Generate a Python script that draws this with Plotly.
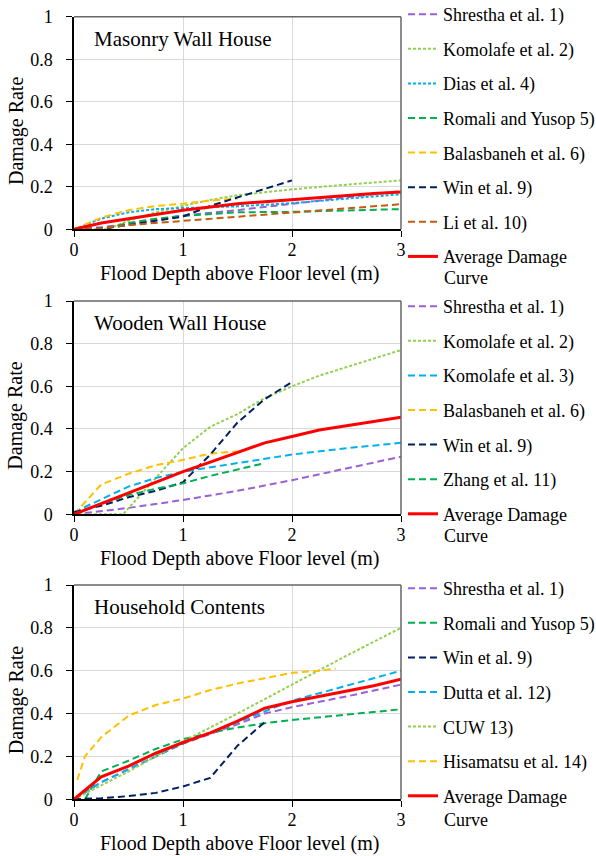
import plotly.graph_objects as go

# ---------------- DATA ----------------
# Panel 1: Masonry Wall House
m_shrestha_x = [0, 0.25, 0.5, 0.75, 1, 1.5, 2, 2.5, 3]
m_shrestha_y = [0, 0.01, 0.025, 0.045, 0.065, 0.09, 0.12, 0.15, 0.18]
m_komolafe2_x = [0, 0.3, 0.5, 0.75, 1, 1.25, 1.5, 2, 2.5, 3]
m_komolafe2_y = [0, 0, 0.04, 0.08, 0.11, 0.138, 0.16, 0.188, 0.21, 0.23]
m_dias_x = [0, 0.25, 0.5, 0.75, 1, 1.5, 2, 2.5, 3]
m_dias_y = [0, 0.05, 0.08, 0.095, 0.1, 0.108, 0.123, 0.145, 0.165]
m_romali_x = [0, 0.3, 0.5, 0.75, 1, 1.5, 2, 2.5, 3]
m_romali_y = [0, 0.005, 0.03, 0.05, 0.063, 0.08, 0.082, 0.09, 0.095]
m_balas_x = [0, 0.25, 0.5, 0.75, 1, 1.25, 1.5]
m_balas_y = [0, 0.055, 0.09, 0.11, 0.12, 0.135, 0.145]
m_win_x = [0, 0.25, 0.5, 0.75, 1, 1.25, 1.5, 1.75, 2]
m_win_y = [0, 0.003, 0.02, 0.04, 0.06, 0.11, 0.15, 0.19, 0.23]
m_li_x = [0, 0.25, 0.5, 0.75, 1, 1.5, 2, 2.5, 3]
m_li_y = [0, 0.005, 0.02, 0.03, 0.04, 0.06, 0.08, 0.1, 0.118]
m_avg_x = [0, 0.25, 0.5, 0.75, 1, 1.25, 1.5, 1.75, 2, 2.25, 2.5, 2.75, 3]
m_avg_y = [0, 0.03, 0.05, 0.07, 0.09, 0.105, 0.12, 0.13, 0.14, 0.15, 0.16, 0.168, 0.175]

# Panel 2: Wooden Wall House
w_shrestha_x = [0, 0.5, 1, 1.5, 2, 2.5, 3]
w_shrestha_y = [0, 0.03, 0.067, 0.11, 0.16, 0.215, 0.27]
w_komolafe2_x = [0, 0.45, 0.75, 1, 1.25, 1.5, 1.75, 2, 2.25, 2.5, 2.75, 3]
w_komolafe2_y = [0, 0, 0.17, 0.31, 0.41, 0.47, 0.545, 0.6, 0.65, 0.69, 0.73, 0.77]
w_komolafe3_x = [0, 0.25, 0.5, 0.75, 1, 1.5, 2, 2.5, 3]
w_komolafe3_y = [0.01, 0.07, 0.13, 0.17, 0.2, 0.24, 0.28, 0.31, 0.335]
w_balas_x = [0, 0.25, 0.5, 0.75, 1, 1.25, 1.5]
w_balas_y = [0, 0.14, 0.19, 0.23, 0.255, 0.285, 0.295]
w_win_x = [0, 0.25, 0.5, 0.75, 1, 1.25, 1.5, 1.75, 2]
w_win_y = [0.01, 0.04, 0.08, 0.11, 0.15, 0.28, 0.43, 0.54, 0.62]
w_zhang_x = [0, 0.25, 0.5, 0.75, 1, 1.25, 1.5, 1.75]
w_zhang_y = [0, 0.05, 0.09, 0.12, 0.145, 0.18, 0.21, 0.24]
w_avg_x = [0, 0.25, 0.5, 0.75, 1, 1.25, 1.5, 1.75, 2, 2.25, 2.5, 2.75, 3]
w_avg_y = [0, 0.05, 0.1, 0.15, 0.2, 0.245, 0.29, 0.335, 0.365, 0.395, 0.415, 0.435, 0.455]

# Panel 3: Household Contents
h_shrestha_x = [0, 0.25, 0.5, 1, 1.5, 1.75, 2, 2.5, 3]
h_shrestha_y = [0, 0.08, 0.14, 0.26, 0.35, 0.40, 0.43, 0.48, 0.535]
h_romali_x = [0, 0.1, 0.25, 0.5, 0.75, 1, 1.25, 1.5, 1.75, 2, 2.5, 3]
h_romali_y = [0, 0, 0.13, 0.18, 0.235, 0.28, 0.31, 0.335, 0.355, 0.37, 0.395, 0.42]
h_win_x = [0, 0.25, 0.5, 0.75, 1, 1.25, 1.5, 1.75]
h_win_y = [0, 0.005, 0.015, 0.03, 0.06, 0.1, 0.25, 0.36]
h_dutta_x = [0, 0.25, 0.5, 1, 1.5, 1.75, 2, 2.5, 3]
h_dutta_y = [0, 0.08, 0.14, 0.26, 0.36, 0.41, 0.46, 0.53, 0.6]
h_cuw_x = [0, 0.25, 0.5, 1, 1.5, 2, 2.5, 3]
h_cuw_y = [0, 0.065, 0.13, 0.27, 0.4, 0.535, 0.67, 0.8]
h_hisa_x = [0.03, 0.1, 0.25, 0.5, 0.75, 1, 1.25, 1.5, 1.75, 2, 2.25, 2.4]
h_hisa_y = [0.09, 0.2, 0.29, 0.39, 0.44, 0.47, 0.51, 0.54, 0.565, 0.59, 0.6, 0.61]
h_avg_x = [0, 0.25, 0.5, 0.75, 1, 1.25, 1.5, 1.75, 2, 2.25, 2.5, 2.75, 3]
h_avg_y = [0, 0.105, 0.155, 0.215, 0.265, 0.31, 0.365, 0.425, 0.455, 0.48, 0.505, 0.53, 0.56]

panel_titles = ["Masonry Wall House", "Wooden Wall House", "Household Contents"]
x_title = "Flood Depth above Floor level (m)"
y_title = "Damage Rate"
avg_label_1 = "Average Damage"
avg_label_2 = "Curve"

# ---------------- STYLE ----------------
PURPLE = "#9B5FD6"
LGREEN = "#92D050"
LBLUE = "#00B0F0"
GREEN = "#00B050"
YELLOW = "#FFC000"
NAVY = "#002060"
BROWN = "#C55A11"
RED = "#FF0000"
DASH = "7px,4px"
DOT = "3px,2px"
FONT = "Liberation Serif, Times New Roman, serif"

W, H = 596, 856
def px_x(p):
    return p / W
def px_y(p):
    return 1 - p / H

x_dom = [px_x(74), px_x(401)]
bottoms = [229.3, 514.3, 799.3]
tops = [16.7, 301, 585]
y_doms = [[px_y(b), px_y(t)] for b, t in zip(bottoms, tops)]
legend_tops = [-4, 288, 570]
curve_ys = [278, 536, 820]

panels = [
    [("Shrestha et al. 1)", m_shrestha_x, m_shrestha_y, PURPLE, DASH),
     ("Komolafe et al. 2)", m_komolafe2_x, m_komolafe2_y, LGREEN, DOT),
     ("Dias et al. 4)", m_dias_x, m_dias_y, LBLUE, DOT),
     ("Romali and Yusop 5)", m_romali_x, m_romali_y, GREEN, DASH),
     ("Balasbaneh et al. 6)", m_balas_x, m_balas_y, YELLOW, DASH),
     ("Win et al. 9)", m_win_x, m_win_y, NAVY, DASH),
     ("Li et al. 10)", m_li_x, m_li_y, BROWN, DASH),
     (avg_label_1, m_avg_x, m_avg_y, RED, "solid")],
    [("Shrestha et al. 1)", w_shrestha_x, w_shrestha_y, PURPLE, DASH),
     ("Komolafe et al. 2)", w_komolafe2_x, w_komolafe2_y, LGREEN, DOT),
     ("Komolafe et al. 3)", w_komolafe3_x, w_komolafe3_y, LBLUE, DASH),
     ("Balasbaneh et al. 6)", w_balas_x, w_balas_y, YELLOW, DASH),
     ("Win et al. 9)", w_win_x, w_win_y, NAVY, DASH),
     ("Zhang et al. 11)", w_zhang_x, w_zhang_y, GREEN, DASH),
     (avg_label_1, w_avg_x, w_avg_y, RED, "solid")],
    [("Shrestha et al. 1)", h_shrestha_x, h_shrestha_y, PURPLE, DASH),
     ("Romali and Yusop 5)", h_romali_x, h_romali_y, GREEN, DASH),
     ("Win et al. 9)", h_win_x, h_win_y, NAVY, DASH),
     ("Dutta et al. 12)", h_dutta_x, h_dutta_y, LBLUE, DASH),
     ("CUW 13)", h_cuw_x, h_cuw_y, LGREEN, DOT),
     ("Hisamatsu et al. 14)", h_hisa_x, h_hisa_y, YELLOW, DASH),
     (avg_label_1, h_avg_x, h_avg_y, RED, "solid")],
]

fig = go.Figure()
layout = dict(
    width=W, height=H, margin=dict(l=0, r=0, t=0, b=0, autoexpand=False),
    paper_bgcolor="white", plot_bgcolor="white",
    font=dict(family=FONT, size=18, color="black"),
    showlegend=True,
)
annotations = []
shapes = []

for i, series in enumerate(panels):
    n = "" if i == 0 else str(i + 1)
    xa, ya = "x" + n, "y" + n
    leg = "legend" + n
    for j, (name, xs, ys, col, dash) in enumerate(series):
        fig.add_trace(go.Scatter(
            x=xs, y=ys, mode="lines", name=name,
            line=dict(color=col, width=3 if dash == "solid" else 2, dash=dash),
            xaxis=xa, yaxis=ya, legend=leg, legendgroup=f"p{i}_{j}",
        ))
    layout["xaxis" + n] = dict(
        domain=x_dom, range=[0, 3], dtick=1, anchor=ya,
        showgrid=True, gridcolor="#D9D9D9", gridwidth=1, zeroline=False,
        showline=True, linecolor="#000000", linewidth=1.5,
        ticks="outside", ticklen=6, tickcolor="#000000",
        tickfont=dict(family=FONT, size=18), ticklabelstandoff=-3,
        fixedrange=True,
    )
    layout["yaxis" + n] = dict(
        domain=y_doms[i], range=[0, 1], dtick=0.2, anchor=xa,
        showgrid=True, gridcolor="#D9D9D9", gridwidth=1, zeroline=False,
        showline=True, linecolor="#000000", linewidth=1.5,
        ticks="outside", ticklen=6, tickcolor="#000000",
        tickfont=dict(family=FONT, size=18), ticklabelstandoff=10,
        fixedrange=True,
    )
    layout[leg] = dict(
        x=px_x(403), y=px_y(legend_tops[i]), xanchor="left", yanchor="top",
        bgcolor="rgba(0,0,0,0)", borderwidth=0,
        font=dict(family=FONT, size=18, color="black"),
        tracegroupgap=8.2, itemwidth=30, valign="middle",
        traceorder="grouped",
    )
    # second line of the "Average Damage Curve" legend label
    annotations.append(dict(text=avg_label_2, xref="paper", yref="paper",
                            x=px_x(442), y=px_y(curve_ys[i]), xanchor="left", yanchor="middle",
                            showarrow=False, font=dict(family=FONT, size=18)))
    # frame top/right in gray
    shapes.append(dict(type="line", xref=xa + " domain", yref=ya + " domain",
                       x0=0, x1=1, y0=1, y1=1, line=dict(color="#666666", width=1.5)))
    shapes.append(dict(type="line", xref=xa + " domain", yref=ya + " domain",
                       x0=1, x1=1, y0=0, y1=1, line=dict(color="#666666", width=1.5)))
    # panel title
    annotations.append(dict(text=panel_titles[i], xref=xa + " domain", yref=ya + " domain",
                            x=0.055, y=0.897, xanchor="left", yanchor="middle",
                            showarrow=False, font=dict(family=FONT, size=21)))
    # axis titles
    annotations.append(dict(text=x_title, xref="paper", yref="paper",
                            x=px_x(239), y=px_y(bottoms[i] + 44), xanchor="center", yanchor="middle",
                            showarrow=False, font=dict(family=FONT, size=20)))
    annotations.append(dict(text=y_title, xref="paper", yref="paper", textangle=-90,
                            x=px_x(16), y=px_y((tops[i] + bottoms[i]) / 2 + 8), xanchor="center", yanchor="middle",
                            showarrow=False, font=dict(family=FONT, size=20)))

layout["annotations"] = annotations
layout["shapes"] = shapes
fig.update_layout(**layout)
fig.write_html("out.html")
